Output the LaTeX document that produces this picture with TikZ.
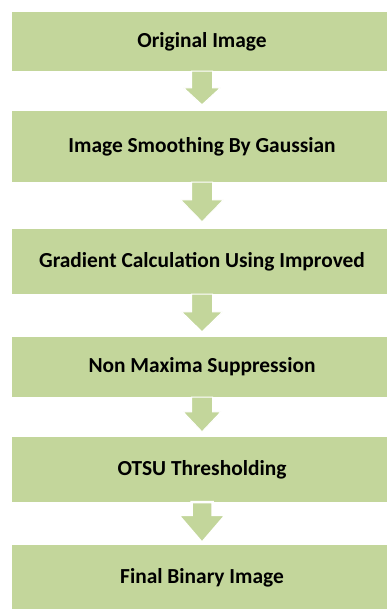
\documentclass[tikz,border=0pt]{standalone}
\usepackage{fontspec}
\setmainfont{Carlito}
\usepackage{tikz}
\usetikzlibrary{positioning, calc}

\definecolor{boxgreen}{HTML}{C3D69B}

% block arrow from the bottom of one box to the top of the next
\newcommand{\blkarrow}[6][1pt]{%
  \filldraw[arr, line width=#1]
    ($(#2.south)+(-10.5,0)$) -- ($(#3.north)+(-10.5,#4+#5)$)
    -- ($(#3.north)+(-#6,#4+#5)$) -- ($(#3.north)+(0,#4)$)
    -- ($(#3.north)+(#6,#4+#5)$) -- ($(#3.north)+(10.5,#4+#5)$)
    -- ($(#2.south)+(10.5,0)$) -- cycle;}

\begin{document}
\begin{tikzpicture}[x=1pt, y=1pt, font=\bfseries\fontsize{21.4}{24}\selectfont,
    blk/.style={fill=boxgreen, minimum width=380pt, inner sep=0pt, align=center},
    arr/.style={fill=boxgreen, draw=white, line join=miter}
]
    \clip (0,0) rectangle (387,-609);
    \fill[white] (0,0) rectangle (387,-609);

    \node[blk, minimum height=59pt] (orig) at (202,-41.5) {Original Image};
    \node[blk, minimum height=71pt] (smooth) at (202,-146.5) {Image Smoothing By Gaussian};
    \node[blk, minimum height=65pt] (grad) at (202,-261.5) {Gradient Calculation Using Improved};
    \node[blk, minimum height=60pt] (nms) at (202,-367) {Non Maxima Suppression};
    \node[blk, minimum height=65pt] (otsu) at (202,-469.5) {OTSU Thresholding};
    \node[blk, minimum height=65pt] (final) at (202,-577.5) {Final Binary Image};

    \blkarrow{orig}{smooth}{6}{17}{18.5}
    \blkarrow{smooth}{grad}{7}{22}{21.5}
    \blkarrow{grad}{nms}{5}{20}{20.5}
    \blkarrow{nms}{otsu}{5}{20}{19}
    \blkarrow[2.5pt]{otsu}{final}{2}{28}{24}
\end{tikzpicture}
\end{document}
